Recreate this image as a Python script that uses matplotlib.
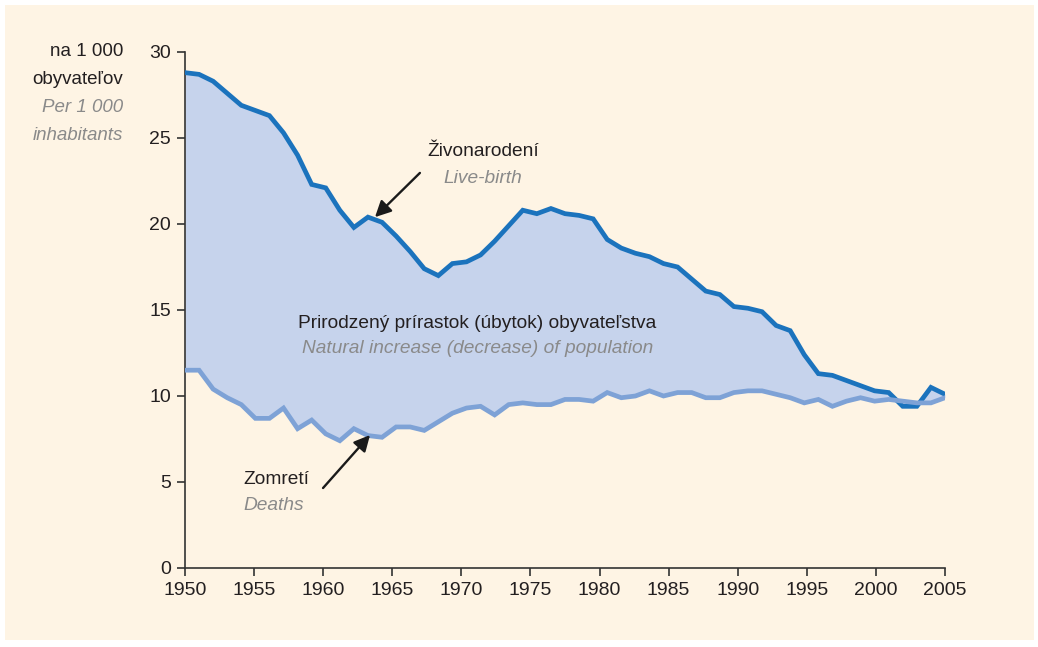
import numpy as np
import matplotlib
matplotlib.use("Agg")
import matplotlib.pyplot as plt
from matplotlib.patches import Rectangle

# values, 55 samples spread over 1950-2005
births = [28.8, 28.7, 28.3, 27.6, 26.9, 26.6, 26.3, 25.3, 24.0, 22.3,
          22.1, 20.8, 19.8, 20.4, 20.1, 19.3, 18.4, 17.4, 17.0, 17.7,
          17.8, 18.2, 19.0, 19.9, 20.8, 20.6, 20.9, 20.6, 20.5, 20.3,
          19.1, 18.6, 18.3, 18.1, 17.7, 17.5, 16.8, 16.1, 15.9, 15.2,
          15.1, 14.9, 14.1, 13.8, 12.4, 11.3, 11.2, 10.9, 10.6, 10.3,
          10.2, 9.4, 9.4, 10.5, 10.1]
deaths = [11.5, 11.5, 10.4, 9.9, 9.5, 8.7, 8.7, 9.3, 8.1, 8.6,
          7.8, 7.4, 8.1, 7.7, 7.6, 8.2, 8.2, 8.0, 8.5, 9.0,
          9.3, 9.4, 8.9, 9.5, 9.6, 9.5, 9.5, 9.8, 9.8, 9.7,
          10.2, 9.9, 10.0, 10.3, 10.0, 10.2, 10.2, 9.9, 9.9, 10.2,
          10.3, 10.3, 10.1, 9.9, 9.6, 9.8, 9.4, 9.7, 9.9, 9.7,
          9.8, 9.7, 9.6, 9.6, 9.9]
x_ticks = list(range(1950, 2006, 5))
y_ticks = [0, 5, 10, 15, 20, 25, 30]

years = np.linspace(1950, 2005, len(births))

bg = "#fef4e4"
dark = "#1b73bd"
light = "#7ea2d6"
fill = "#c6d3ec"
txt = "#231f20"
grey = "#8a8a8a"

plt.rcParams["font.family"] = ["Liberation Sans", "DejaVu Sans"]

fig = plt.figure(figsize=(10.38, 6.47), dpi=100)
fig.patch.set_facecolor("white")
fig.patches.append(Rectangle((5 / 1038, 1 - 640 / 647), 1029 / 1038, 635 / 647,
                             transform=fig.transFigure, facecolor=bg,
                             edgecolor="none", zorder=-5))

ax = fig.add_axes([185 / 1038, 1 - 568 / 647, 760 / 1038, 516 / 647])
ax.set_facecolor("none")
ax.set_zorder(2)

ax.fill_between(years, deaths, births, color=fill, lw=0, zorder=1)
ax.plot(years, births, color=dark, lw=3.4, solid_joinstyle="miter", zorder=3)
ax.plot(years, deaths, color=light, lw=3.4, solid_joinstyle="miter", zorder=4)

ax.set_xlim(1950, 2005)
ax.set_ylim(0, 30)
ax.set_xticks(x_ticks)
ax.set_yticks(y_ticks)
ax.tick_params(labelsize=14, colors="#333333", labelcolor=txt,
               length=6, width=1.2, direction="out", pad=4)
for s in ["top", "right"]:
    ax.spines[s].set_visible(False)
for s in ["left", "bottom"]:
    ax.spines[s].set_color("#333333")
    ax.spines[s].set_linewidth(1.2)

fs = 13.8

# y-axis caption
cap = [("na 1 000", txt, "normal", 52), ("obyvateľov", txt, "normal", 80),
       ("Per 1 000", grey, "italic", 107), ("inhabitants", grey, "italic", 135)]
for s, c, st, py in cap:
    fig.text(123 / 1038, 1 - py / 647, s, color=c, style=st, fontsize=13.5,
             ha="right", va="center", zorder=3)

ax.text(1971.57, 24.19, "Živonarodení", color=txt, fontsize=fs, ha="center", va="center")
ax.text(1971.57, 22.67, "Live-birth", color=grey, style="italic", fontsize=fs,
        ha="center", va="center")
ax.text(1971.17, 14.24, "Prirodzený prírastok (úbytok) obyvateľstva", color=txt,
        fontsize=fs, ha="center", va="center", zorder=5)
ax.text(1971.17, 12.79, "Natural increase (decrease) of population", color=grey,
        style="italic", fontsize=fs, ha="center", va="center", zorder=5)
ax.text(1954.2, 5.12, "Zomretí", color=txt, fontsize=fs, ha="left", va="center")
ax.text(1954.2, 3.66, "Deaths", color=grey, style="italic", fontsize=fs,
        ha="left", va="center")

arrow = dict(arrowstyle="-|>", color="#1a1a1a", lw=1.7, mutation_scale=24,
             shrinkA=0, shrinkB=0)
ax.annotate("", xy=(1963.75, 20.4), xytext=(1967.0, 22.97), arrowprops=arrow, zorder=6)
ax.annotate("", xy=(1963.39, 7.73), xytext=(1959.99, 4.65), arrowprops=arrow, zorder=6)

fig.savefig("out.png", dpi=100, facecolor=fig.get_facecolor())
